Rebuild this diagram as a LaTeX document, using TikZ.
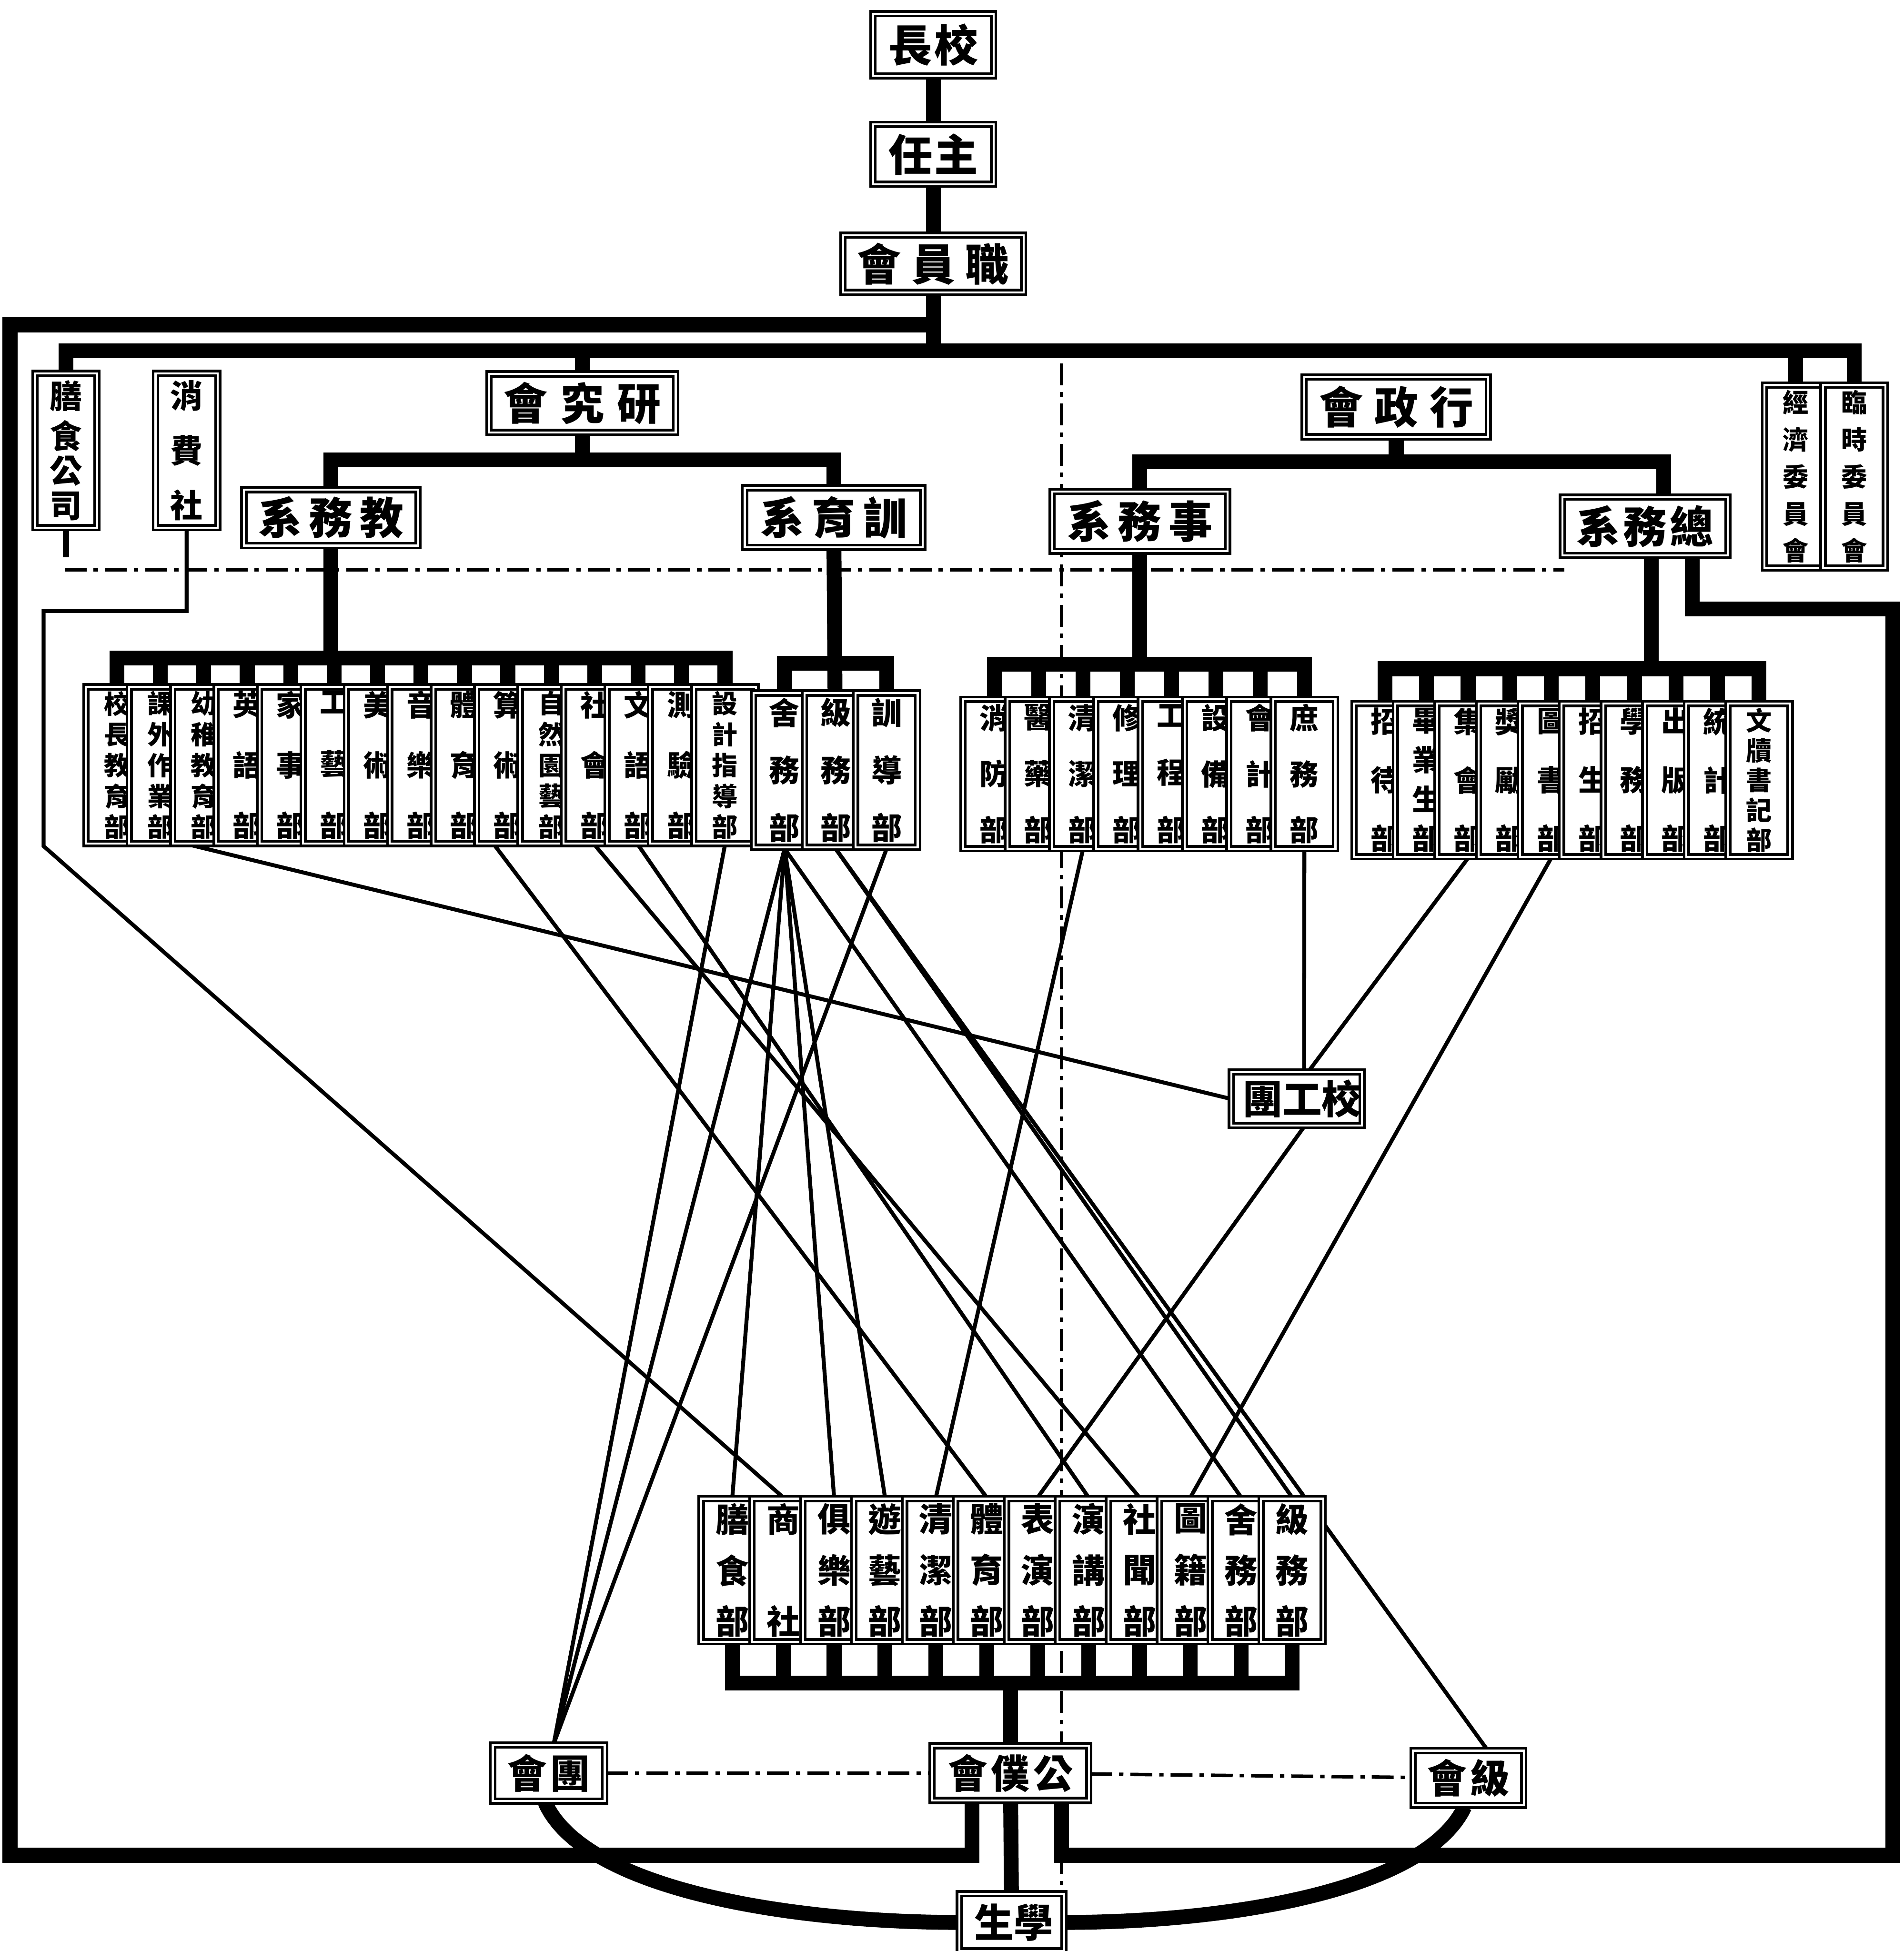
\documentclass[tikz,border=0pt]{standalone}
\usepackage{fontspec}
\newfontfamily\cjk{Noto Sans CJK TC}
\usetikzlibrary{positioning,backgrounds}
\newcommand{\hl}[2]{\makebox[#1][s]{#2}}
\newcommand{\vl}[2]{\parbox[c][#1][s]{5mm}{\centering #2}}
\newcommand{\nxt}{\par\vfill}

\begin{document}
\begin{tikzpicture}[x=0.1mm, y=-0.1mm, line join=miter,
    hbox/.style={draw, line width=0.6pt, double, double distance=0.45pt,
                 fill=white, inner sep=0pt,
                 font=\cjk\bfseries\fontsize{10}{10}\selectfont},
    vbox/.style={hbox, font=\cjk\bfseries\fontsize{6.6}{7}\selectfont},
    five/.style={font=\cjk\bfseries\fontsize{5.9}{6}\selectfont},
    bar/.style={line width=3.4pt},
    link/.style={line width=0.9pt},
    dd/.style={line width=0.8pt, dash pattern=on 5pt off 1.6pt on 1pt off 1.6pt},
  ]
  \useasboundingbox (0,0) rectangle (1530,1568);

  % top of the chart
  \node[hbox, minimum width=9.7mm, minimum height=5mm] (xz) at (750,36) {\hl{7.2mm}{長\hfill 校}};
  \node[hbox, minimum width=9.7mm, minimum height=4.8mm] (zr) at (750,124) {\hl{7.2mm}{任\hfill 主}};
  \node[hbox, minimum width=14.5mm, minimum height=4.6mm] (zyh) at (750,212) {\hl{12.2mm}{會\hfill 員\hfill 職}};

  \node[hbox, minimum width=15mm, minimum height=4.7mm] (yjh) at (468,324) {\hl{12.6mm}{會\hfill 究\hfill 研}};
  \node[hbox, minimum width=14.8mm, minimum height=4.8mm] (xzh) at (1122,327) {\hl{12.4mm}{會\hfill 政\hfill 行}};

  \node[hbox, minimum width=14mm, minimum height=4.5mm] (jw) at (266,416) {\hl{11.7mm}{系\hfill 務\hfill 教}};
  \node[hbox, minimum width=14.3mm, minimum height=4.8mm] (xy) at (670,416) {\hl{11.8mm}{系\hfill 育\hfill 訓}};
  \node[hbox, minimum width=14.1mm, minimum height=4.8mm] (sw) at (916,419) {\hl{11.7mm}{系\hfill 務\hfill 事}};
  \node[hbox, minimum width=13.3mm, minimum height=4.7mm] (zw) at (1322,423) {\hl{11mm}{系\hfill 務\hfill 總}};

  % side bodies
  \node[vbox, minimum width=4.6mm, minimum height=12.4mm, font=\cjk\bfseries\fontsize{7.4}{7}\selectfont]
    (ssgs) at (53,362) {\vl{11mm}{膳\nxt 食\nxt 公\nxt 司}};
  \node[vbox, minimum width=4.5mm, minimum height=12.4mm, font=\cjk\bfseries\fontsize{7.4}{7}\selectfont]
    (xfs) at (150,362) {\vl{11mm}{消\nxt 費\nxt 社}};
  \node[vbox, five, minimum width=3.4mm, minimum height=14.7mm] (jjw) at (1443,383) {\vl{13.7mm}{經\nxt 濟\nxt 委\nxt 員\nxt 會}};
  \node[vbox, five, minimum width=3.4mm, minimum height=14.7mm] (lsw) at (1490,383) {\vl{13.7mm}{臨\nxt 時\nxt 委\nxt 員\nxt 會}};

  % departments
  \foreach \t/\s [count=\i] in {{校\nxt 長\nxt 教\nxt 育\nxt 部}/five, {課\nxt 外\nxt 作\nxt 業\nxt 部}/five,
      {幼\nxt 稚\nxt 教\nxt 育\nxt 部}/five, {英\nxt 語\nxt 部}/vbox, {家\nxt 事\nxt 部}/vbox, {工\nxt 藝\nxt 部}/vbox,
      {美\nxt 術\nxt 部}/vbox, {音\nxt 樂\nxt 部}/vbox, {體\nxt 育\nxt 部}/vbox, {算\nxt 術\nxt 部}/vbox,
      {自\nxt 然\nxt 園\nxt 藝\nxt 部}/five, {社\nxt 會\nxt 部}/vbox, {文\nxt 語\nxt 部}/vbox, {測\nxt 驗\nxt 部}/vbox,
      {設\nxt 計\nxt 指\nxt 導\nxt 部}/five}
    \node[vbox, \s, minimum width=3.2mm, minimum height=12.6mm] (jw\i) at ({94+34.9*(\i-1)},615) {\vl{11.7mm}{\t}};
  \foreach \t [count=\i] in {{舍\nxt 務\nxt 部}, {級\nxt 務\nxt 部}, {訓\nxt 導\nxt 部}}
    \node[vbox, minimum width=3.8mm, minimum height=12.4mm, font=\cjk\bfseries\fontsize{7}{7}\selectfont]
      (xy\i) at ({630.5+41*(\i-1)},619) {\vl{11.4mm}{\t}};
  \foreach \t [count=\i] in {{消\nxt 防\nxt 部}, {醫\nxt 藥\nxt 部}, {清\nxt 潔\nxt 部}, {修\nxt 理\nxt 部},
      {工\nxt 程\nxt 部}, {設\nxt 備\nxt 部}, {會\nxt 計\nxt 部}, {庶\nxt 務\nxt 部}}
    \node[vbox, minimum width=3.1mm, minimum height=12mm] (sw\i) at ({799+35.6*(\i-1)},622) {\vl{11mm}{\t}};
  \foreach \t/\s [count=\i] in {{招\nxt 待\nxt 部}/vbox, {畢\nxt 業\nxt 生\nxt 部}/vbox, {集\nxt 會\nxt 部}/vbox,
      {獎\nxt 勵\nxt 部}/vbox, {圖\nxt 書\nxt 部}/vbox, {招\nxt 生\nxt 部}/vbox, {學\nxt 務\nxt 部}/vbox,
      {出\nxt 版\nxt 部}/vbox, {統\nxt 計\nxt 部}/vbox, {文\nxt 牘\nxt 書\nxt 記\nxt 部}/five}
    \node[vbox, \s, minimum width=3mm, minimum height=12.3mm] (zw\i) at ({1113+33.4*(\i-1)},627) {\vl{11.4mm}{\t}};

  \node[hbox, minimum width=10.5mm, minimum height=4.3mm, font=\cjk\bfseries\fontsize{9}{9}\selectfont]
    (xgt) at (1042,883) {\hl{8.6mm}{團\hfill 工\hfill 校}};

  % student bodies
  \foreach \t [count=\i] in {{膳\nxt 食\nxt 部}, {商\nxt 社}, {俱\nxt 樂\nxt 部}, {遊\nxt 藝\nxt 部},
      {清\nxt 潔\nxt 部}, {體\nxt 育\nxt 部}, {表\nxt 演\nxt 部}, {演\nxt 講\nxt 部}, {社\nxt 聞\nxt 部},
      {圖\nxt 籍\nxt 部}, {舍\nxt 務\nxt 部}, {級\nxt 務\nxt 部}}
    \node[vbox, minimum width=3.6mm, minimum height=11.5mm, font=\cjk\bfseries\fontsize{7.6}{7}\selectfont]
      (st\i) at ({588.5+40.9*(\i-1)},1262) {\vl{10.5mm}{\t}};

  \node[hbox, minimum width=9mm, minimum height=4.5mm, font=\cjk\bfseries\fontsize{9}{9}\selectfont]
    (tuan) at (441,1425) {\hl{6.6mm}{會\hfill 團}};
  \node[hbox, minimum width=12.6mm, minimum height=4.4mm, font=\cjk\bfseries\fontsize{9}{9}\selectfont]
    (gph) at (812,1425) {\hl{10mm}{會\hfill 僕\hfill 公}};
  \node[hbox, minimum width=8.9mm, minimum height=4.4mm, font=\cjk\bfseries\fontsize{9}{9}\selectfont]
    (jih) at (1180,1429) {\hl{6.6mm}{會\hfill 級}};
  \node[hbox, minimum width=8.4mm, minimum height=4.6mm, font=\cjk\bfseries\fontsize{9}{9}\selectfont]
    (xs) at (813,1545) {\hl{6mm}{生\hfill 學}};

  \begin{scope}[on background layer]
    % heavy lines
    \draw[bar] (xz) -- (zr);
    \draw[bar] (zr) -- (zyh);
    \draw[bar] (zyh.south) -- ++(0,50);
    \draw[bar] (ssgs.north) -- ++(0,-17) -| (lsw.north);
    \draw[bar] (yjh.north) -- ++(0,-17);
    \draw[bar] (jjw.north) -- ++(0,-26);
    \draw[bar] (yjh.south) -- ++(0,21) -| (jw.north);
    \draw[bar] (yjh.south) ++(0,21) -| (xy.north);
    \draw[bar] (xzh.south) -- ++(0,19) -| (sw.north);
    \draw[bar] (xzh.south) ++(0,19) -| ([xshift=1.5mm]zw.north);

    \draw[bar] (jw1.north) -- ++(0,-22) -| (jw15.north);
    \foreach \i in {2,...,14} \draw[bar] (jw\i.north) -- ++(0,-22);
    \draw[bar] (jw.south) -- ++(0,92);
    \draw[bar] (xy1.north) -- ++(0,-23) -| (xy3.north);
    \draw[bar] (xy) -- (xy2);
    \draw[bar] (sw1.north) -- ++(0,-27) -| (sw8.north);
    \foreach \i in {2,...,7} \draw[bar] (sw\i.north) -- ++(0,-27);
    \draw[bar] (sw.south) -- ++(0,92);
    \draw[bar] (zw1.north) -- ++(0,-27) -| (zw10.north);
    \foreach \i in {2,...,9} \draw[bar] (zw\i.north) -- ++(0,-27);
    \draw[bar] ([xshift=0.5mm]zw.south) -- ++(0,93);

    \draw[bar] (st1.south) -- ++(0,32) -| (st12.south);
    \foreach \i in {2,...,11} \draw[bar] (st\i.south) -- ++(0,32);
    \draw[bar] (gph.north) -- ++(0,-51);
    \draw[bar] (gph) -- (xs);

    % outer frame
    \draw[bar] (zyh.south) ++(0,25) -| (8,1491) -| ([xshift=-3.1mm]gph.south);
    \draw[bar] ([xshift=3.8mm]zw.south) -- ++(0,42) -| (1521,1491) -| ([xshift=4.1mm]gph.south);

    % arc through the students
    \draw[bar] ([xshift=-0.3mm]tuan.south) .. controls (470,1520) and (640,1545) .. (xs.west);
    \draw[bar] (xs.east) .. controls (985,1545) and (1145,1520) .. ([xshift=-0.3mm]jih.south);

    % dash-dot lines
    \draw[line width=1.4pt] (ssgs.south) -- ++(0,23);
    \draw[dd] (52,458) -- (1257,458);
    \draw[dd] (853,292) -- (853,1568);
    \draw[dd] (tuan) -- (gph);
    \draw[dd] (gph) -- (jih);

    % thin links
    \draw[link] (xfs.south) -- ++(0,66) -| (35,680) -- (st2.north);
    \draw[link] ([xshift=-0.2mm]jw2.south east) -- (xgt.west);
    \draw[link] ([xshift=-0.2mm]jw9.south east) -- (st6.north);
    \draw[link] (jw12.south) -- (st9.north);
    \draw[link] (jw13.south) -- (st8.north);
    \draw[link] (jw15.south) -- ([xshift=0.4mm]tuan.north);
    \draw[link] (xy1.south) -- ([xshift=0.4mm]tuan.north);
    \draw[link] (xy1.south) -- (st1.north);
    \draw[link] (xy1.south) -- (st3.north);
    \draw[link] (xy1.south) -- (st4.north);
    \draw[link] (xy1.south) -- (st11.north);
    \draw[link] (xy2.south) -- (st12.north);
    \draw[link] (xy2.south) -- ([xshift=1.5mm]jih.north);
    \draw[link] (xy3.south) -- ([xshift=0.4mm]tuan.north);
    \draw[link] (sw3.south) -- (st5.north);
    \draw[link] (sw8.south) -- ([xshift=0.6mm]xgt.north);
    \draw[link] (zw3.south) -- ([xshift=1mm]xgt.north);
    \draw[link] ([xshift=0.6mm]xgt.south) -- (st7.north);
    \draw[link] (zw5.south) -- (st10.north);
  \end{scope}
\end{tikzpicture}
\end{document}
